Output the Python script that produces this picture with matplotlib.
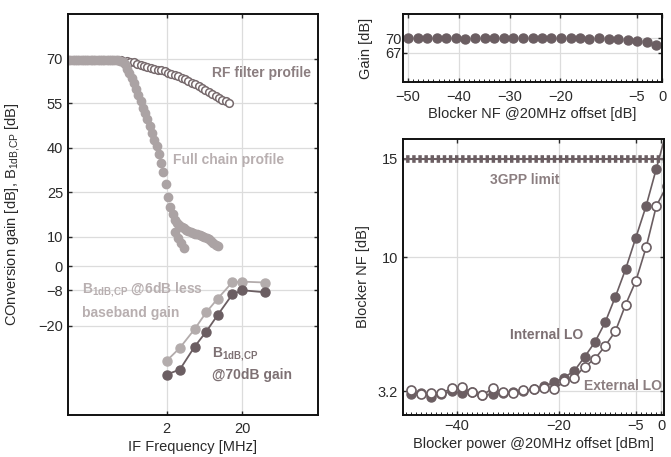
import matplotlib
matplotlib.use("Agg")
import matplotlib.pyplot as plt
from matplotlib.ticker import MultipleLocator, NullLocator, FixedLocator

plt.rcParams['font.family'] = ['Liberation Sans', 'DejaVu Sans']
plt.rcParams['mathtext.default'] = 'regular'

#------------------# Data #------------------#
# left panel: IF frequency sweep
rf_freq = [0.10, 0.15, 0.20, 0.30, 0.40, 0.50, 0.603, 0.668, 0.741, 0.822, 0.912, 1.012,
           1.122, 1.245, 1.380, 1.531, 1.698, 1.884, 2.089, 2.317, 2.570, 2.851, 3.162,
           3.508, 3.890, 4.315, 4.786, 5.309, 5.888, 6.531, 7.244, 8.035, 8.913, 9.886,
           10.96, 12.16, 13.49]
rf_gain = [69.5, 69.5, 69.5, 69.5, 69.5, 69.4, 69.3, 69.0, 68.7, 68.3, 67.9, 67.5,
           67.2, 66.9, 66.6, 66.3, 66.0, 65.7, 65.3, 64.9, 64.5, 64.0, 63.5,
           63.0, 62.5, 61.9, 61.3, 60.7, 60.1, 59.4, 58.8, 58.1, 57.4, 56.7,
           56.1, 55.6, 55.1]

fc_freq = [0.10, 0.107, 0.115, 0.123, 0.132, 0.141, 0.151, 0.162, 0.174, 0.186, 0.20,
           0.214, 0.229, 0.246, 0.263, 0.282, 0.302, 0.324, 0.347, 0.372, 0.398, 0.427,
           0.457, 0.49, 0.525, 0.562, 0.603, 0.646, 0.692, 0.741, 0.794, 0.851, 0.912,
           0.977, 1.047, 1.122, 1.202, 1.288, 1.38, 1.479, 1.585, 1.698, 1.82, 1.95,
           2.09, 2.24, 2.40, 2.57, 2.75, 2.95, 3.16, 3.39, 3.63, 3.89, 4.17, 4.47, 4.79,
           5.13, 5.50, 5.89, 6.31, 6.76, 7.24, 7.76, 8.32, 8.91, 9.55]
fc_gain = [69.5, 69.5, 69.5, 69.5, 69.5, 69.5, 69.5, 69.5, 69.5, 69.5, 69.5,
           69.5, 69.5, 69.5, 69.5, 69.5, 69.5, 69.5, 69.5, 69.5, 69.5, 69.5,
           69.4, 69.3, 69.0, 68.0, 66.5, 65.0, 63.5, 61.7, 59.7, 57.7, 55.6,
           53.5, 51.5, 49.5, 47.2, 44.9, 42.6, 40.6, 37.8, 35.0, 31.8, 27.6,
           23.5, 20.0, 17.5, 15.8, 14.7, 13.8, 13.2, 12.8, 12.4, 12.1, 11.7, 11.3, 11.0,
           10.8, 10.6, 10.4, 10.0, 9.6, 9.1, 8.5, 7.8, 7.2, 6.8]
fc_b_freq = [2.55, 2.8, 3.12, 3.38]
fc_b_gain = [11.7, 9.5, 7.8, 6.1]

b1db_freq = [2, 3, 4.7, 6.7, 9.5, 14.8, 20, 40]
b1db_less = [-31.8, -27.4, -21.1, -15.4, -10.8, -5.3, -5.1, -5.4]
b1db_70 = [-36.4, -34.7, -27.0, -21.9, -16.3, -9.4, -8.0, -8.7]

# top right: gain vs blocker
gain_x = [-50, -48.1, -46.2, -44.3, -42.5, -40.6, -38.7, -36.8, -34.9, -33.1, -31.2,
          -29.3, -27.4, -25.5, -23.7, -21.8, -19.9, -18.0, -16.1, -14.3, -12.4, -10.5,
          -8.6, -6.7, -4.9, -3.0, -1.1]
gain_db = [70.0, 70.1, 70.0, 70.0, 70.1, 70.0, 69.9, 70.0, 70.1, 70.0, 70.0,
           70.1, 70.0, 70.0, 70.1, 70.0, 70.0, 70.1, 70.0, 69.9, 70.0, 69.9,
           69.8, 69.7, 69.5, 69.2, 68.6]

# bottom right: blocker NF
blk_pwr = [-49, -47, -45, -43, -41, -39, -37, -35, -33, -31, -29, -27, -25, -23,
           -21, -19, -17, -15, -13, -11, -9, -7, -5, -3, -1, 1]
nf_int = [3.05, 3.1, 2.9, 3.05, 3.2, 3.1, 3.15, 3.0, 3.05, 3.1, 3.15, 3.2, 3.3, 3.45,
          3.65, 3.9, 4.25, 4.95, 5.7, 6.7, 8.0, 9.4, 11.0, 12.6, 14.5, 16.4]
nf_ext = [3.25, 3.05, 3.1, 3.1, 3.35, 3.4, 3.15, 3.0, 3.35, 3.15, 3.1, 3.25, 3.3, 3.35,
          3.3, 3.7, 3.9, 4.45, 4.85, 5.5, 6.25, 7.6, 8.8, 10.5, 12.6, 13.6]
limit_x = [-51, 2]
limit_nf = 15

#------------------# Style #------------------#
DARK = '#6b5e62'
LIGHT = '#aba3a4'
GRID = '#dcdcdc'
LABEL = '#2a2a2a'
FS = 10.5
SUB = 'B$_{1dB{,}CP}$'


def style(ax):
    ax.tick_params(direction='in', top=True, right=True, labelsize=FS, colors=LABEL,
                   length=3, width=1)
    ax.grid(True, color=GRID, lw=0.9)
    ax.set_axisbelow(True)
    for s in ax.spines.values():
        s.set_linewidth(1.4)
        s.set_color('#111111')


fig = plt.figure(figsize=(6.71, 4.57), dpi=100)

#------------------# Left panel #------------------#
ax1 = fig.add_axes([0.1013, 0.0919, 0.3726, 0.8775])
ax1.set_xscale('log')
ax1.plot(rf_freq, rf_gain, 'o', ms=5.5, mfc='white', mec='#776a6d', mew=1.1)
ax1.plot(fc_freq, fc_gain, 'o', ms=6, color=LIGHT, mec=LIGHT)
ax1.plot(fc_b_freq, fc_b_gain, 'o', ms=6, color=LIGHT, mec=LIGHT)
ax1.plot(b1db_freq, b1db_less, '-o', ms=6.5, lw=1.3, color='#b3acac')
ax1.plot(b1db_freq, b1db_70, '-o', ms=6.5, lw=1.3, color=DARK)
ax1.set_xlim(0.1, 200)
ax1.set_ylim(-50, 85)
ax1.xaxis.set_major_locator(FixedLocator([2, 20]))
ax1.xaxis.set_minor_locator(NullLocator())
ax1.set_xticklabels(['2', '20'])
ax1.set_yticks([70, 55, 40, 25, 10, 0, -8, -20])
style(ax1)
ax1.tick_params(axis='x', pad=5)
ax1.set_xlabel('IF Frequency [MHz]', fontsize=FS, color=LABEL)
ax1.set_ylabel('COnversion gain [dB], ' + SUB + ' [dB]', fontsize=FS, color=LABEL)
ax1.xaxis.set_label_coords(0.5, -0.062)
ax1.yaxis.set_label_coords(-0.185, 0.5)

ax1.text(160, 65, 'RF filter profile', ha='right', va='center', fontsize=10,
         fontweight='bold', color='#8b7e80')
ax1.text(2.45, 36, 'Full chain profile', ha='left', va='center', fontsize=10,
         fontweight='bold', color='#b8afb0')
ax1.text(0.152, -8, SUB + ' @6dB less', ha='left', va='center', fontsize=10,
         fontweight='bold', color='#b8afb0')
ax1.text(0.152, -15.5, 'baseband gain', ha='left', va='center', fontsize=10,
         fontweight='bold', color='#b8afb0')
ax1.text(8.0, -29.5, SUB, ha='left', va='center', fontsize=10,
         fontweight='bold', color='#7d7073')
ax1.text(8.0, -36.7, '@70dB gain', ha='left', va='center', fontsize=10,
         fontweight='bold', color='#7d7073')

#------------------# Top right panel #------------------#
ax2 = fig.add_axes([0.6006, 0.8206, 0.386, 0.1488])
ax2.plot(gain_x, gain_db, 'o', ms=6.5, color=DARK)
ax2.set_xlim(-51, 0)
ax2.set_ylim(61, 75)
ax2.set_xticks([-50, -40, -30, -20, -5, 0])
ax2.set_yticks([70, 67])
ax2.xaxis.set_minor_locator(MultipleLocator(1))
style(ax2)
ax2.tick_params(which='minor', direction='in', length=2, top=False)
ax2.tick_params(axis='x', pad=6)
ax2.tick_params(axis='y', pad=1)
ax2.set_xlabel('Blocker NF @20MHz offset [dB]', fontsize=FS, color=LABEL)
ax2.set_ylabel('Gain [dB]', fontsize=FS, color=LABEL)
ax2.xaxis.set_label_coords(0.5, -0.37)
ax2.yaxis.set_label_coords(-0.116, 0.5)

#------------------# Bottom right panel #------------------#
ax3 = fig.add_axes([0.6006, 0.0919, 0.389, 0.604])
ax3.plot(limit_x, [limit_nf, limit_nf], '-', lw=1.5, color=DARK)
ax3.plot(limit_x, [limit_nf, limit_nf], lw=5.5, ls=(0, (0.45, 0.35)), color=DARK)
ax3.plot(blk_pwr, nf_int, '-o', ms=6.5, lw=1.2, color=DARK)
ax3.plot(blk_pwr, nf_ext, '-o', ms=6.5, lw=1.2, color=DARK, mfc='white', mew=1.2)
ax3.set_xlim(-50.5, 0.5)
ax3.set_ylim(2, 16)
ax3.set_xticks([-40, -20, -5, 0])
ax3.set_yticks([15, 10, 3.2])
ax3.set_yticklabels(['15', '10', '3.2'])
ax3.xaxis.set_minor_locator(MultipleLocator(1))
style(ax3)
ax3.tick_params(which='minor', direction='in', length=2, top=False)
ax3.tick_params(axis='x', pad=3)
ax3.set_xlabel('Blocker power @20MHz offset [dBm]', fontsize=FS, color=LABEL)
ax3.set_ylabel('Blocker NF [dB]', fontsize=FS, color=LABEL)
ax3.xaxis.set_label_coords(0.5, -0.08)
ax3.yaxis.set_label_coords(-0.126, 0.5)

ax3.text(-26.7, 13.9, '3GPP limit', ha='center', va='center', fontsize=10,
         fontweight='bold', color='#8b7e80')
ax3.text(-22.5, 6.07, 'Internal LO', ha='center', va='center', fontsize=10,
         fontweight='bold', color='#7d7073')
ax3.text(-7.6, 3.47, 'External LO', ha='center', va='center', fontsize=10,
         fontweight='bold', color='#8b7e80')

fig.savefig('out.png', dpi=100)
